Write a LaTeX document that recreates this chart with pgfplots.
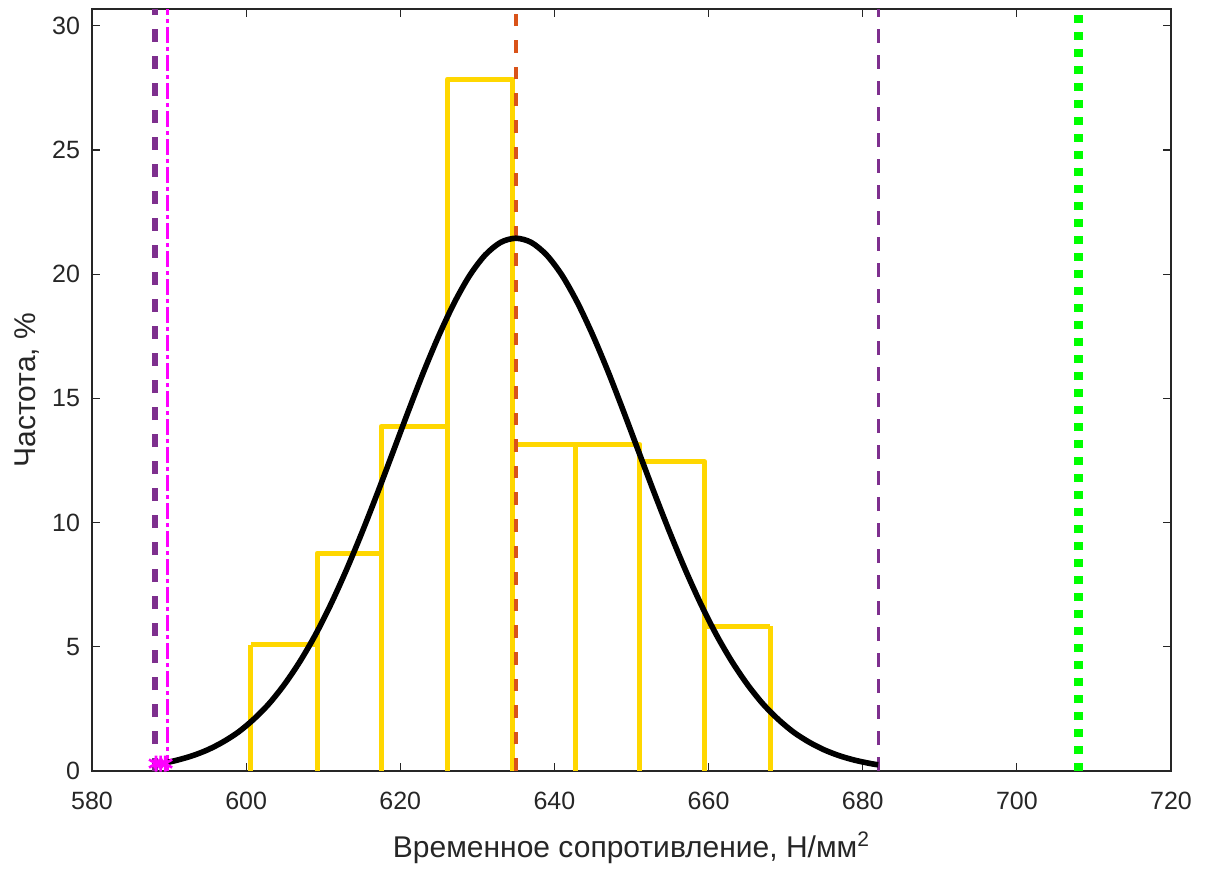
\documentclass[border=0pt]{standalone}
\usepackage{pgfplots}
\pgfplotsset{compat=1.18}
\usepackage{fontspec}
\setmainfont{Liberation Sans}
\definecolor{mgray}{RGB}{38,38,38}
\definecolor{histy}{RGB}{255,215,0}
\definecolor{mpurple}{RGB}{126,47,142}
\definecolor{morange}{RGB}{217,83,25}
\definecolor{mmag}{RGB}{255,0,255}
\definecolor{mgreen}{RGB}{0,255,0}
\begin{document}
\begin{tikzpicture}
\begin{axis}[name=ax,
  scale only axis, width=539.5pt, height=381pt,
  xmin=580, xmax=720, ymin=0, ymax=30.68,
  xtick={580,600,...,720}, ytick={0,5,...,30},
  tick align=inside, major tick length=4pt,
  axis line style={mgray, line width=0.6pt},
  tick style={mgray, line width=0.6pt},
  ticklabel style={font=\fontsize{12.5}{14}\selectfont, text=mgray},
  xticklabel style={anchor=center, yshift=-15pt},
  yticklabel style={xshift=-2.5pt},
  /pgf/number format/assume math mode=true,
  /pgf/number format/1000 sep={},
  label style={font=\fontsize{15}{17}\selectfont, text=mgray},
  xlabel={Временное сопротивление, Н/мм\textsuperscript{2}},
  ylabel={Частота, \%},
  xlabel style={at={(axis description cs:0.5,-0.1129)}, anchor=base},
  ylabel style={at={(axis description cs:-0.0602,0.5)}, anchor=center},
  clip=true,
]
% histogram edges
\addplot[ycomb, histy, line width=2.5pt, no marks] coordinates {
 (600.6,5.09) (609.2,8.77) (617.5,13.87) (626.1,27.86) (634.5,27.86)
 (642.7,13.14) (651.1,13.14) (659.5,12.45) (668.0,5.82)};
\addplot[const plot, histy, line width=2.5pt, no marks, line join=round] coordinates {
 (600.6,5.09) (609.2,8.77) (617.5,13.87) (626.1,27.86) (634.5,13.14)
 (642.7,13.14) (651.1,12.45) (659.5,5.82) (668.0,5.82)};
% vertical reference lines
\addplot[mpurple, line width=2.7pt, dash pattern=on 6.5pt off 7pt] coordinates {(588.2,0) (588.2,30.68)};
\addplot[mmag, line width=1.5pt, dash pattern=on 8pt off 2pt on 2pt off 2pt] coordinates {(589.8,0) (589.8,30.68)};
\addplot[morange, line width=2.3pt, dash pattern=on 6.3pt off 7pt] coordinates {(635.0,0) (635.0,30.68)};
\addplot[mpurple, line width=1.5pt, dash pattern=on 7pt off 6pt] coordinates {(682.05,0) (682.05,30.68)};
\addplot[mgreen, line width=4.8pt, dash pattern=on 4pt off 4.5pt] coordinates {(708.0,0) (708.0,30.68)};
% normal fit curve
\addplot[black, line width=2.8pt, smooth, no marks] coordinates {
 (589.8,0.349) (591,0.433) (593,0.612) (595,0.852) (597,1.17) (599,1.57)
 (601,2.09) (603,2.72) (605,3.50) (607,4.42) (609,5.49) (611,6.72)
 (613,8.09) (615,9.58) (617,11.16) (619,12.80) (621,14.45) (623,16.05)
 (625,17.53) (627,18.85) (629,19.95) (631,20.77) (633,21.28) (635,21.45)
 (637,21.28) (639,20.77) (641,19.95) (643,18.85) (645,17.53) (647,16.05)
 (649,14.45) (651,12.80) (653,11.16) (655,9.58) (657,8.09) (659,6.72)
 (661,5.49) (663,4.42) (665,3.50) (667,2.72) (669,2.09) (671,1.57)
 (673,1.17) (675,0.852) (677,0.612) (679,0.433) (681,0.301) (682,0.250)};
% min markers
\addplot[only marks, mark=asterisk, mmag, mark size=4pt, line width=1.3pt] coordinates {
 (588.3,0.3) (588.9,0.3) (589.5,0.3)};
\end{axis}
\pgfresetboundingbox
\path (ax.south west) ++(-46pt,-48.5pt) rectangle ([xshift=21pt,yshift=4.5pt]ax.north east);
\end{tikzpicture}
\end{document}
